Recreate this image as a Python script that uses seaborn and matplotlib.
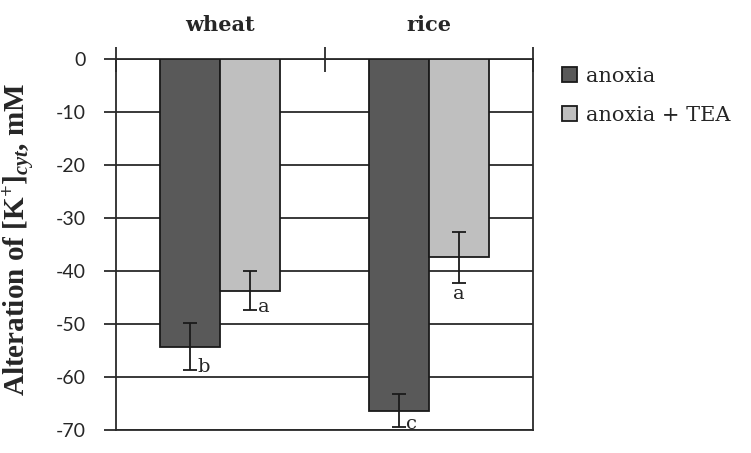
import pandas as pd
import matplotlib
matplotlib.use("Agg")
import matplotlib.pyplot as plt
import seaborn as sns

# values
crops = ["wheat", "wheat", "rice", "rice"]
treatments = ["anoxia", "anoxia + TEA", "anoxia", "anoxia + TEA"]
k_change = [-54.3, -43.7, -66.4, -37.4]
k_err = [4.4, 3.7, 3.1, 4.8]
letters = ["b", "a", "c", "a"]
yticks = [0, -10, -20, -30, -40, -50, -60, -70]

df = pd.DataFrame({"crop": crops, "treatment": treatments,
                   "value": k_change, "err": k_err, "letter": letters})

sns.set_style("white")
plt.rcParams["mathtext.fontset"] = "custom"
plt.rcParams["mathtext.rm"] = "Liberation Serif:bold"
plt.rcParams["mathtext.it"] = "Liberation Serif:bold:italic"
plt.rcParams["mathtext.bf"] = "Liberation Serif:bold"

fig = plt.figure(figsize=(7.51, 4.53), dpi=100)
ax = fig.add_axes([116 / 751, 1 - 430 / 453, 417 / 751, 371 / 453])

sns.barplot(data=df, x="crop", y="value", hue="treatment",
            palette=["#595959", "#bfbfbf"], width=0.575,
            edgecolor="#1a1a1a", linewidth=1.3, errorbar=None, ax=ax, zorder=3)

# error bars and significance letters, placed on the bars seaborn drew
crop_order = ["wheat", "rice"]
for container, treat in zip(ax.containers, ["anoxia", "anoxia + TEA"]):
    for bar, crop in zip(container, crop_order):
        row = df[(df["crop"] == crop) & (df["treatment"] == treat)].iloc[0]
        xc = bar.get_x() + bar.get_width() / 2
        ax.errorbar(xc, row["value"], yerr=row["err"], fmt="none",
                    ecolor="#1a1a1a", elinewidth=1.3, capsize=5, capthick=1.3, zorder=4)
        low = row["value"] - row["err"]
        if crop == "rice" and treat == "anoxia + TEA":
            ax.text(xc, low - 0.4, row["letter"], ha="center", va="top",
                    family="DejaVu Serif", fontsize=14, zorder=5)
        else:
            ax.text(xc + 0.035, low + 0.6, row["letter"], ha="left", va="center",
                    family="DejaVu Serif", fontsize=14, zorder=5)

ax.set_ylim(-70, 0)
ax.set_xlim(-0.5, 1.5)
ax.set_yticks(yticks)
ax.set_yticklabels([str(v) for v in yticks], family="Lato", fontsize=14)
ax.yaxis.grid(True, color="#2a2a2a", linewidth=1.3, zorder=0)
ax.set_axisbelow(True)
ax.tick_params(axis="y", direction="out", length=9, width=1.3, color="#2a2a2a", pad=13, left=True)

# category axis sits at zero, on top
ax.xaxis.tick_top()
ax.set_xticks([0, 1])
ax.set_xticklabels(["wheat", "rice"], family="DejaVu Serif", fontweight="bold", fontsize=15)
ax.set_xticks([-0.5, 0.5, 1.5], minor=True)
ax.tick_params(axis="x", which="major", length=0, pad=17)
ax.tick_params(axis="x", which="minor", direction="inout", length=18, width=1.3,
               color="#2a2a2a", top=True, bottom=False)
ax.set_xlabel("")

for s in ax.spines.values():
    s.set_visible(True)
    s.set_color("#2a2a2a")
    s.set_linewidth(1.3)

ax.set_ylabel("Alteration of [K$^{+}$]$_{cyt}$, mM", family="Liberation Serif",
              fontweight="bold", fontsize=21)
ax.yaxis.set_label_coords(-0.19, 0.515)

ax.legend(loc="upper left", bbox_to_anchor=(543 / 751, 1 - 48 / 453),
          bbox_transform=fig.transFigure, frameon=False,
          prop={"family": "DejaVu Serif", "size": 15},
          handlelength=0.75, handleheight=0.75, handletextpad=0.4, labelspacing=0.95)

fig.savefig("out.png", dpi=100)
